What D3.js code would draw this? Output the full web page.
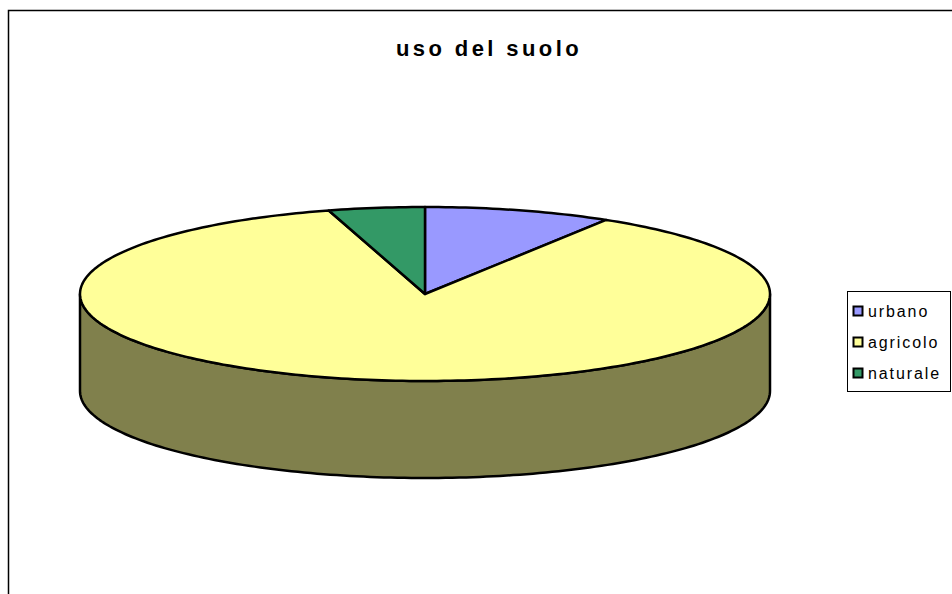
<!DOCTYPE html>
<html>
<head>
<meta charset="utf-8">
<script src="https://cdn.jsdelivr.net/npm/d3@7"></script>
<style>
  body { margin: 0; background: #fff; }
  text { font-family: "Liberation Sans", Arial, sans-serif; }
</style>
</head>
<body>
<script>
var categories = ["urbano", "agricolo", "naturale"];
var values = [8.8, 86.7, 4.5];
var colors = ["#9999FF", "#FFFF99", "#339966"];
var sideColors = ["#4C4C80", "#80804C", "#1A4C33"];

var width = 952, height = 594;
var cx = 425, cy = 294, rx = 345, ry = 87, depth = 97;

var svg = d3.select("body").append("svg")
    .attr("width", width)
    .attr("height", height);

// chart area frame
svg.append("rect")
    .attr("x", 8.5).attr("y", 10.5)
    .attr("width", 960).attr("height", 600)
    .attr("fill", "#fff")
    .attr("stroke", "#000")
    .attr("stroke-width", 1.5);

svg.append("text")
    .attr("x", 489)
    .attr("y", 56)
    .attr("text-anchor", "middle")
    .attr("font-size", 22)
    .attr("font-weight", "bold")
    .attr("letter-spacing", 3.4)
    .text("uso del suolo");

var data = categories.map(function (c, i) {
    return { name: c, value: values[i], color: colors[i], side: sideColors[i] };
});

var arcs = d3.pie().sort(null).value(function (d) { return d.value; })(data);

function pt(a, dy) {
    return [cx + rx * Math.sin(a), cy - ry * Math.cos(a) + (dy || 0)];
}

function ellipseArc(p, a0, a1, dy) {
    var n = Math.max(2, Math.ceil(Math.abs(a1 - a0) / 0.02));
    for (var k = 0; k <= n; k++) {
        var q = pt(a0 + (a1 - a0) * k / n, dy);
        p.lineTo(q[0], q[1]);
    }
}

// side walls (front half only)
var g = svg.append("g");
arcs.forEach(function (d) {
    var a0 = Math.max(d.startAngle, Math.PI / 2),
        a1 = Math.min(d.endAngle, 3 * Math.PI / 2);
    if (a1 <= a0) return;
    var p = d3.path();
    var s = pt(a0);
    p.moveTo(s[0], s[1]);
    ellipseArc(p, a0, a1, 0);
    ellipseArc(p, a1, a0, depth);
    p.closePath();
    g.append("path")
        .attr("d", p.toString())
        .attr("fill", d.data.side)
        .attr("stroke", "#000")
        .attr("stroke-width", 2.5)
        .attr("stroke-linejoin", "round");
});

// top faces
arcs.forEach(function (d) {
    var p = d3.path();
    p.moveTo(cx, cy);
    var s = pt(d.startAngle);
    p.lineTo(s[0], s[1]);
    ellipseArc(p, d.startAngle, d.endAngle, 0);
    p.closePath();
    g.append("path")
        .attr("d", p.toString())
        .attr("fill", d.data.color)
        .attr("stroke", "#000")
        .attr("stroke-width", 2.5)
        .attr("stroke-linejoin", "round");
});

// legend
var legend = svg.append("g").attr("transform", "translate(847,291)");
legend.append("rect")
    .attr("x", 0.5).attr("y", 0.5)
    .attr("width", 103).attr("height", 100)
    .attr("fill", "#fff")
    .attr("stroke", "#000")
    .attr("stroke-width", 1);

var y = d3.scalePoint().domain(categories).range([20, 82]);
var items = legend.selectAll("g.item").data(data).enter().append("g")
    .attr("class", "item")
    .attr("transform", function (d) { return "translate(0," + y(d.name) + ")"; });
items.append("rect")
    .attr("x", 6.5).attr("y", -4.5)
    .attr("width", 9).attr("height", 9)
    .attr("fill", function (d) { return d.color; })
    .attr("stroke", "#000")
    .attr("stroke-width", 2);
items.append("text")
    .attr("x", 21).attr("y", 6)
    .attr("font-size", 16)
    .attr("letter-spacing", 1.9)
    .text(function (d) { return d.name; });
</script>
</body>
</html>
